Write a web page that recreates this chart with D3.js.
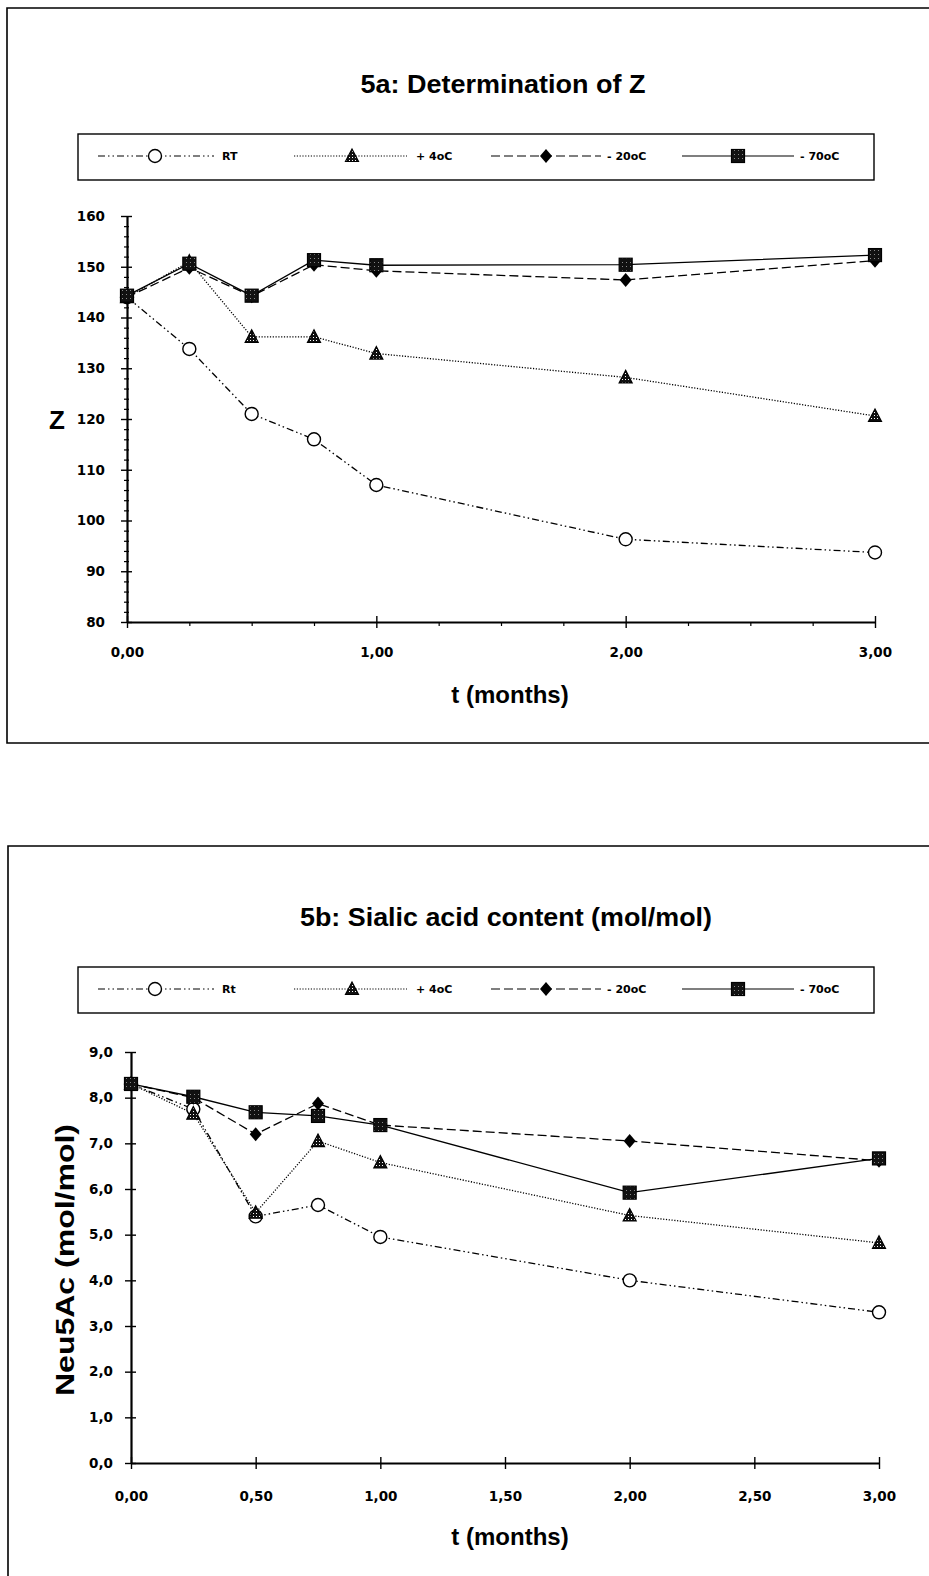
<!DOCTYPE html>
<html>
<head>
<meta charset="utf-8">
<script src="https://cdn.jsdelivr.net/npm/d3@7"></script>
<style>
body { margin: 0; background: #fff; }
svg { display: block; }
.tick text { font-family: "DejaVu Sans"; font-weight: bold; font-size: 13.5px; fill: #000; }
.title { font-family: "Liberation Sans"; font-weight: bold; fill: #000; }
.legendText { font-family: "DejaVu Sans"; font-weight: bold; font-size: 11px; fill: #000; }
</style>
</head>
<body>
<svg id="chart" width="929" height="1576"></svg>
<script>
// sampling times (months)
let months = [0, 0.25, 0.5, 0.75, 1, 2, 3]

// 5a: Z
let zRT = [144, 133.8, 121, 116, 107, 96.3, 93.7]
let zPlus4 = [144, 151, 136.2, 136.2, 132.9, 128.2, 120.6]
let zMinus20 = [144, 149.8, 144.2, 150.4, 149.2, 147.4, 151.2]
let zMinus70 = [144.3, 150.6, 144.3, 151.3, 150.3, 150.4, 152.3]

// 5b: Neu5Ac (mol/mol)
let sRT = [8.3, 7.75, 5.4, 5.65, 4.95, 4.0, 3.3]
let sPlus4 = [8.3, 7.65, 5.48, 7.05, 6.58, 5.42, 4.82]
let sMinus20 = [8.3, 8.0, 7.2, 7.87, 7.4, 7.05, 6.62]
let sMinus70 = [8.3, 8.02, 7.68, 7.6, 7.4, 5.92, 6.67]

let legendTop = ["RT", "+ 4oC", "- 20oC", "- 70oC"]
let legendBottom = ["Rt", "+ 4oC", "- 20oC", "- 70oC"]

// tick values and labels
let zTicks = [80, 90, 100, 110, 120, 130, 140, 150, 160]
let zTickLabels = ["80", "90", "100", "110", "120", "130", "140", "150", "160"]
let zMinorTicks = [82, 84, 86, 88, 92, 94, 96, 98, 102, 104, 106, 108, 112, 114, 116, 118, 122, 124, 126, 128, 132, 134, 136, 138, 142, 144, 146, 148, 152, 154, 156, 158]
let xTicksTop = [0, 1, 2, 3]
let xTickLabelsTop = ["0,00", "1,00", "2,00", "3,00"]
let xMinorTop = [0.25, 0.5, 0.75, 1.25, 1.5, 1.75, 2.25, 2.5, 2.75]

let sTicks = [0, 1, 2, 3, 4, 5, 6, 7, 8, 9]
let sTickLabels = ["0,0", "1,0", "2,0", "3,0", "4,0", "5,0", "6,0", "7,0", "8,0", "9,0"]
let xTicksBottom = [0, 0.5, 1, 1.5, 2, 2.5, 3]
let xTickLabelsBottom = ["0,00", "0,50", "1,00", "1,50", "2,00", "2,50", "3,00"]

// line style + marker per series
let styles = [
    {dash: "7,3,1.5,3,1.5,3", marker: "circle"},
    {dash: "1.2,1.6", marker: "triangle"},
    {dash: "9,4", marker: "diamond"},
    {dash: null, marker: "square"}
]

let svg = d3.select("#chart")

// fill patterns for the hatched markers
let defs = svg.append("defs")
let p1 = defs.append("pattern").attr("id", "triDots").attr("width", 3).attr("height", 3).attr("patternUnits", "userSpaceOnUse")
p1.append("rect").attr("width", 3).attr("height", 3).attr("fill", "#111")
p1.append("rect").attr("x", 1).attr("y", 1).attr("width", 1).attr("height", 1).attr("fill", "#fff")
let p2 = defs.append("pattern").attr("id", "sqDots").attr("width", 4).attr("height", 4).attr("patternUnits", "userSpaceOnUse")
p2.append("rect").attr("width", 4).attr("height", 4).attr("fill", "#111")
p2.append("rect").attr("x", 2).attr("y", 2).attr("width", 1).attr("height", 1).attr("fill", "#888")

function drawMarker(g, type, cx, cy){
    if(type == "circle"){
        g.append("circle").attr("cx", cx).attr("cy", cy).attr("r", 6.5)
            .attr("fill", "#fff").attr("stroke", "#000").attr("stroke-width", 1.4)
    }
    else if(type == "triangle"){
        g.append("path").attr("d", `M${cx},${cy-7}L${cx+6.5},${cy+5.5}L${cx-6.5},${cy+5.5}Z`)
            .attr("fill", "url(#triDots)").attr("stroke", "#000").attr("stroke-width", 1.2)
    }
    else if(type == "diamond"){
        g.append("path").attr("d", `M${cx},${cy-7}L${cx+6},${cy}L${cx},${cy+7}L${cx-6},${cy}Z`)
            .attr("fill", "#000")
    }
    else{
        g.append("rect").attr("x", cx-6.5).attr("y", cy-6.5).attr("width", 13).attr("height", 13)
            .attr("fill", "url(#sqDots)").attr("stroke", "#000").attr("stroke-width", 1.2)
    }
}

// outer frames (right side runs off the page)
svg.append("path").attr("d", "M940,8H7V743H940").attr("fill", "none").attr("stroke", "#000").attr("stroke-width", 1.6)
svg.append("path").attr("d", "M940,846H8V1590").attr("fill", "none").attr("stroke", "#000").attr("stroke-width", 1.6)

function drawPanel(cfg){
    let g = svg.append("g")

    // title
    g.append("text").attr("class", "title")
        .attr("x", cfg.titleX).attr("y", cfg.titleY)
        .attr("text-anchor", "middle").style("font-size", "26px")
        .attr("textLength", cfg.titleLen).attr("lengthAdjust", "spacingAndGlyphs")
        .text(cfg.title)

    // legend box
    g.append("rect").attr("x", 78).attr("y", cfg.legY - 22).attr("width", 796).attr("height", 46)
        .attr("fill", "none").attr("stroke", "#000").attr("stroke-width", 1.4)
    let legItems = [
        {x1: 98, x2: 214, m: 155, t: 222},
        {x1: 294, x2: 407, m: 352, t: 416},
        {x1: 491, x2: 601, m: 546, t: 607},
        {x1: 682, x2: 794, m: 738, t: 800}
    ]
    legItems.forEach((it, i) => {
        g.append("line").attr("x1", it.x1).attr("x2", it.x2).attr("y1", cfg.legY).attr("y2", cfg.legY)
            .attr("stroke", "#000").attr("stroke-width", 1.2)
            .attr("stroke-dasharray", styles[i].dash)
        drawMarker(g, styles[i].marker, it.m, cfg.legY)
        g.append("text").attr("class", "legendText").attr("x", it.t).attr("y", cfg.legY + 4).text(cfg.legend[i])
    })

    let x = d3.scaleLinear().domain([0, 3]).range([cfg.left, cfg.right])
    let y = d3.scaleLinear().domain(cfg.yDomain).range([cfg.bottom, cfg.top])

    // y axis
    let yAxis = d3.axisLeft(y).tickValues(cfg.yTicks).tickFormat((d, i) => cfg.yLabels[i])
        .tickSize(6).tickPadding(cfg.yPad)
    let ya = g.append("g").attr("transform", `translate(${cfg.left},0)`).call(yAxis)
    ya.selectAll(".tick line").attr("x1", 5).attr("stroke-width", 1.4)
    ya.select(".domain").attr("stroke-width", 2.2).attr("d", `M0.5,${cfg.top}V${cfg.bottom}`)
    if(cfg.yMinor){
        let ym = g.append("g").attr("transform", `translate(${cfg.left},0)`)
            .call(d3.axisLeft(y).tickValues(cfg.yMinor).tickFormat("").tickSize(3))
        ym.select(".domain").remove()
        ym.selectAll(".tick line").attr("x1", 2).attr("stroke-width", 1.2)
    }

    // x axis
    let xAxis = d3.axisBottom(x).tickValues(cfg.xTicks).tickFormat((d, i) => cfg.xLabels[i])
        .tickSize(6).tickPadding(cfg.xPad)
    let xa = g.append("g").attr("transform", `translate(0,${cfg.bottom})`).call(xAxis)
    xa.selectAll(".tick line").attr("y1", -6).attr("stroke-width", 1.4)
    xa.select(".domain").attr("stroke-width", 2).attr("d", `M${cfg.left},0.5H${cfg.right}`)
    if(cfg.xMinor){
        let xm = g.append("g").attr("transform", `translate(0,${cfg.bottom})`)
            .call(d3.axisBottom(x).tickValues(cfg.xMinor).tickFormat("").tickSize(4))
        xm.select(".domain").remove()
        xm.selectAll(".tick line").attr("stroke-width", 1.2)
    }

    // axis titles
    g.append("text").attr("class", "title").attr("x", cfg.xTitleX).attr("y", cfg.xTitleY)
        .attr("text-anchor", "middle").style("font-size", "24px").text("t (months)")
    g.append("text").attr("class", "title")
        .attr("transform", `translate(${cfg.yTitleX},${cfg.yTitleY}) rotate(${cfg.yTitleRot})`)
        .attr("text-anchor", "middle").style("font-size", cfg.yTitleSize)
        .attr("textLength", cfg.yTitleLen).attr("lengthAdjust", "spacingAndGlyphs")
        .text(cfg.yTitle)

    // series lines
    let line = d3.line().x(d => x(d[0])).y(d => y(d[1]))
    cfg.series.forEach((vals, i) => {
        let pts = months.map((m, j) => [m, vals[j]])
        g.append("path").datum(pts).attr("d", line)
            .attr("fill", "none").attr("stroke", "#000").attr("stroke-width", 1.3)
            .attr("stroke-dasharray", styles[i].dash)
    })
    // markers
    cfg.series.forEach((vals, i) => {
        months.forEach((m, j) => drawMarker(g, styles[i].marker, x(m), y(vals[j])))
    })
}

drawPanel({
    title: "5a: Determination of Z", titleX: 503, titleY: 93, titleLen: 285,
    legY: 156, legend: legendTop,
    left: 127, right: 875, top: 216, bottom: 622,
    yDomain: [80, 160], yTicks: zTicks, yLabels: zTickLabels, yMinor: zMinorTicks, yPad: 16,
    xTicks: xTicksTop, xLabels: xTickLabelsTop, xMinor: xMinorTop, xPad: 19,
    xTitleX: 510, xTitleY: 703,
    yTitle: "Z", yTitleX: 57, yTitleY: 429, yTitleRot: 0, yTitleSize: "26px", yTitleLen: null,
    series: [zRT, zPlus4, zMinus20, zMinus70]
})

drawPanel({
    title: "5b: Sialic acid content (mol/mol)", titleX: 506, titleY: 926, titleLen: 412,
    legY: 989, legend: legendBottom,
    left: 131, right: 879, top: 1052, bottom: 1463,
    yDomain: [0, 9], yTicks: sTicks, yLabels: sTickLabels, yMinor: null, yPad: 12,
    xTicks: xTicksBottom, xLabels: xTickLabelsBottom, xMinor: null, xPad: 22,
    xTitleX: 510, xTitleY: 1545,
    yTitle: "Neu5Ac (mol/mol)", yTitleX: 74, yTitleY: 1260, yTitleRot: -90, yTitleSize: "26px", yTitleLen: 272,
    series: [sRT, sPlus4, sMinus20, sMinus70]
})
</script>
</body>
</html>
